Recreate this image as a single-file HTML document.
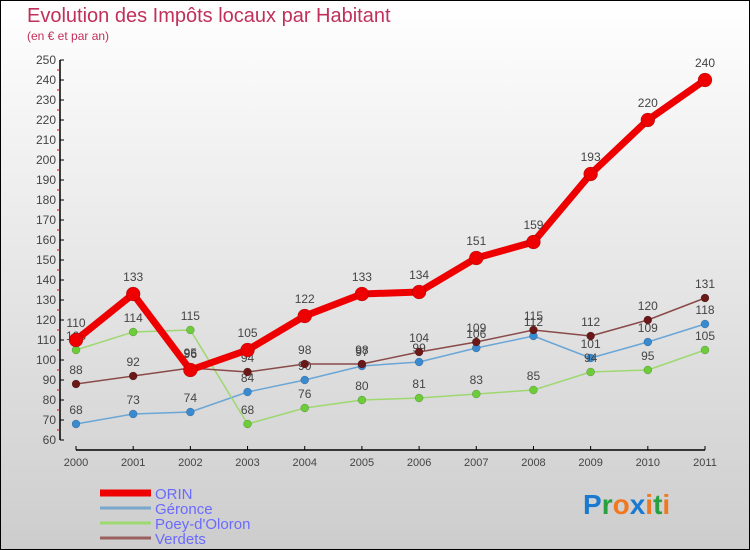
<!DOCTYPE html>
<html><head><meta charset="utf-8"><style>
body{margin:0}
#wrap{position:relative;width:750px;height:550px;box-sizing:border-box;border:1px solid #000;background:linear-gradient(#fff,#cdcdcd);font-family:"Liberation Sans",sans-serif;overflow:hidden}
.t{position:absolute;color:#c0305a}
</style></head><body>
<div id="wrap">
<div class="t" style="left:26px;top:4px;font-size:20px">Evolution des Impôts locaux par Habitant</div>
<div class="t" style="left:26px;top:28px;font-size:12px">(en € et par an)</div>
<svg id="svg" width="750" height="550" style="position:absolute;left:-1px;top:-1px"></svg>
</div>
<script>
const years=["2000","2001","2002","2003","2004","2005","2006","2007","2008","2009","2010","2011"];
const orin=[110,133,95,105,122,133,134,151,159,193,220,240];
const geronce=[68,73,74,84,90,97,99,106,112,101,109,118];
const poey=[105,114,115,68,76,80,81,83,85,94,95,105];
const verdets=[88,92,96,94,98,98,104,109,115,112,120,131];
const yTicks=[60,70,80,90,100,110,120,130,140,150,160,170,180,190,200,210,220,230,240,250];
const NS="http://www.w3.org/2000/svg";
const svg=document.getElementById('svg');
const X=i=>76+i*(705-76)/11;
const Y=v=>440-(v-60)*2;
function mk(t,a,p){const e=document.createElementNS(NS,t);for(const k in a)e.setAttribute(k,a[k]);(p||svg).appendChild(e);return e;}
// axes
let ya=mk('line',{x1:60,y1:60,x2:60,y2:440,stroke:'#000','stroke-width':1.5});


let xa=mk('line',{x1:76,y1:450,x2:705,y2:450,stroke:'#000','stroke-width':1.5});


yTicks.forEach(v=>{
  mk('line',{x1:60,y1:Y(v),x2:64,y2:Y(v),stroke:'#000'});
  if(v<250)mk('line',{x1:57,y1:Y(v+5),x2:60,y2:Y(v+5),stroke:'#e00'});
  const t=mk('text',{x:56,y:Y(v)+4,'text-anchor':'end','font-size':12,fill:'#444'});
  t.textContent=v;
  
  
});
years.forEach((y,i)=>{
  mk('line',{x1:X(i),y1:446,x2:X(i),y2:450,stroke:'#000'});
  const t=mk('text',{x:X(i),y:466,'text-anchor':'middle','font-size':11,fill:'#444'});
  t.textContent=y;
  
  
});
function series(name,data,color,w,r,dot){
  const g=mk('g',{});
  
  
  mk('polyline',{points:data.map((v,i)=>X(i)+','+Y(v)).join(' '),fill:'none',stroke:color,'stroke-width':w,'stroke-linejoin':'round'},g);
  data.forEach((v,i)=>{
    const c=mk('circle',{cx:X(i),cy:Y(v),r:r,fill:dot,stroke:'rgba(0,0,0,0.3)','stroke-width':0.5},g);
    
    
    const t=mk('text',{x:X(i),y:Y(v)-(r+6),'text-anchor':'middle','font-size':12,fill:'#444'},g);
    t.textContent=v;
    
    
  });
}
series('geronce',geronce,'#6aa6d6',1.5,4,'#3a8ad0');
series('poey',poey,'#9ed870',1.5,4,'#6ccc3a');
series('verdets',verdets,'#8a4a4a',1.5,4,'#6a1818');
series('orin',orin,'#ee0000',7,7,'#ee0000');
// legend
const leg=[['ORIN','#ee0000',7],['Géronce','#78a8cc',3],["Poey-d'Oloron",'#9ed870',3],['Verdets','#9a6060',3]];
leg.forEach((l,i)=>{
  const y=493+i*15;
  const g=mk('g',{});
  
  
  mk('line',{x1:100,y1:y,x2:151,y2:y,stroke:l[1],'stroke-width':l[2]},g);
  const t=mk('text',{x:155,y:y+6,'font-size':15,fill:'#6a6aff'},g);
  t.textContent=l[0];
});
const lg=mk('text',{x:583,y:514,'font-size':28,'font-weight':'bold','font-family':'Liberation Sans'});


[['P','#1a7ad0'],['r','#28a040'],['o','#f07820'],['x','#1a7ad0'],['i','#f07820'],['t','#28a040'],['i','#f07820']].forEach(c=>{const s=mk('tspan',{fill:c[1]},lg);s.textContent=c[0];});
</script>
</body></html>
